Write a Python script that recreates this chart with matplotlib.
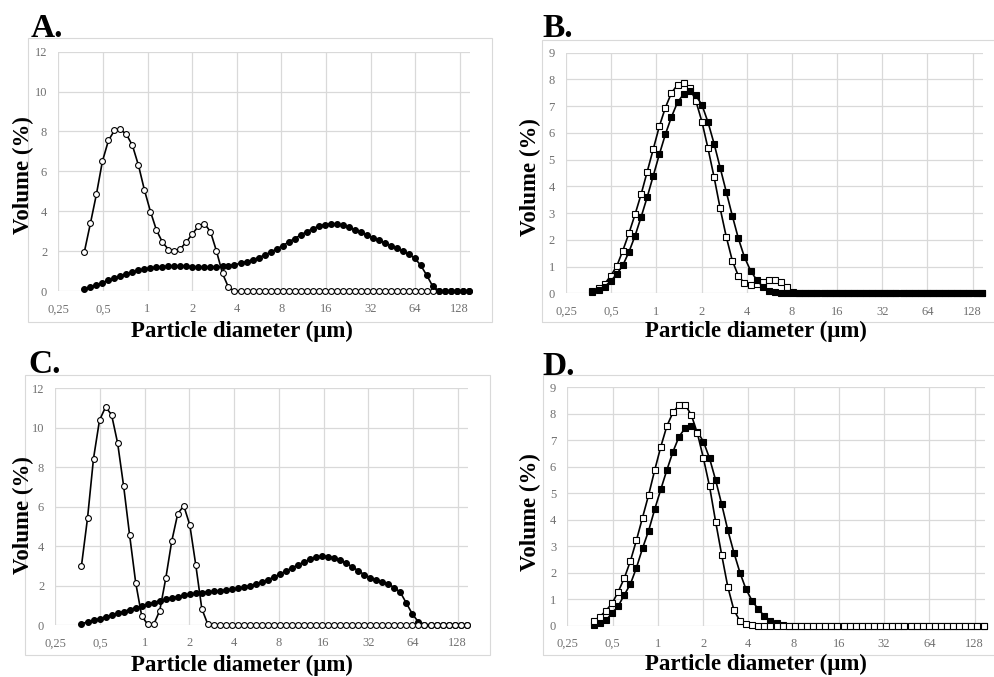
import matplotlib
matplotlib.use("Agg")
import matplotlib.pyplot as plt
from matplotlib.patches import Rectangle
from matplotlib.ticker import FixedLocator, FixedFormatter, NullLocator

# size channels (µm)
diam = [0.375, 0.412, 0.452, 0.496, 0.545, 0.598, 0.657, 0.721, 0.791, 0.869,
        0.954, 1.047, 1.149, 1.261, 1.385, 1.520, 1.669, 1.832, 2.011, 2.208,
        2.423, 2.660, 2.920, 3.206, 3.519, 3.863, 4.241, 4.656, 5.111, 5.611,
        6.159, 6.761, 7.422, 8.148, 8.944, 9.819, 10.78, 11.83, 12.99, 14.26,
        15.65, 17.18, 18.86, 20.71, 22.73, 24.95, 27.39, 30.07, 33.01, 36.24,
        39.78, 43.67, 47.94, 52.62, 57.77, 63.41, 69.61, 76.42, 83.89, 92.09,
        101.1, 111.0, 121.8, 133.7, 146.8]

x_ticks = [0.25, 0.5, 1, 2, 4, 8, 16, 32, 64, 128]
x_tick_labels = ["0,25", "0,5", "1", "2", "4", "8", "16", "32", "64", "128"]

a_open = [1.97, 3.4, 4.85, 6.5, 7.55, 8.05, 8.1, 7.85, 7.3, 6.3,
          5.05, 3.98, 3.05, 2.45, 2.08, 2.0, 2.12, 2.47, 2.87, 3.25,
          3.38, 2.97, 2.0, 0.88, 0.18, 0, 0, 0, 0, 0,
          0, 0, 0, 0, 0, 0, 0, 0, 0, 0,
          0, 0, 0, 0, 0, 0, 0, 0, 0, 0,
          0, 0, 0, 0, 0, 0, 0, 0, 0, 0,
          0, 0, 0, 0, 0]
a_closed = [0.1, 0.2, 0.3, 0.42, 0.54, 0.65, 0.76, 0.86, 0.95, 1.03,
            1.1, 1.15, 1.19, 1.22, 1.24, 1.25, 1.25, 1.24, 1.22, 1.21,
            1.2, 1.2, 1.21, 1.23, 1.27, 1.32, 1.39, 1.47, 1.56, 1.67,
            1.8, 1.95, 2.1, 2.27, 2.45, 2.63, 2.8, 2.97, 3.12, 3.25,
            3.33, 3.37, 3.35, 3.3, 3.2, 3.08, 2.95, 2.82, 2.68, 2.55,
            2.42, 2.28, 2.15, 2.0, 1.85, 1.65, 1.3, 0.8, 0.25, 0.02,
            0, 0, 0, 0, 0]

b_open = [0.08, 0.18, 0.35, 0.65, 1.02, 1.6, 2.25, 2.95, 3.7, 4.55,
          5.4, 6.25, 6.95, 7.5, 7.8, 7.88, 7.68, 7.2, 6.42, 5.42,
          4.35, 3.18, 2.12, 1.22, 0.65, 0.38, 0.32, 0.33, 0.42, 0.5,
          0.5, 0.42, 0.22, 0.03, 0, 0, 0, 0, 0, 0,
          0, 0, 0, 0, 0, 0, 0, 0, 0, 0,
          0, 0, 0, 0, 0, 0, 0, 0, 0, 0,
          0, 0, 0, 0, 0]
b_closed = [0.05, 0.12, 0.25, 0.45, 0.72, 1.05, 1.55, 2.15, 2.85, 3.6,
            4.4, 5.2, 5.95, 6.6, 7.15, 7.45, 7.55, 7.4, 7.05, 6.4,
            5.6, 4.7, 3.8, 2.9, 2.05, 1.35, 0.85, 0.5, 0.25, 0.1,
            0.03, 0, 0, 0, 0, 0, 0, 0, 0, 0,
            0, 0, 0, 0, 0, 0, 0, 0, 0, 0,
            0, 0, 0, 0, 0, 0, 0, 0, 0, 0,
            0, 0, 0, 0, 0]

c_open = [3.0, 5.42, 8.44, 10.38, 11.05, 10.66, 9.22, 7.04, 4.56, 2.15,
          0.46, 0.03, 0.03, 0.72, 2.36, 4.25, 5.65, 6.04, 5.07, 3.02,
          0.82, 0.03, 0, 0, 0, 0, 0, 0, 0, 0,
          0, 0, 0, 0, 0, 0, 0, 0, 0, 0,
          0, 0, 0, 0, 0, 0, 0, 0, 0, 0,
          0, 0, 0, 0, 0, 0, 0, 0, 0, 0,
          0, 0, 0, 0, 0]
c_closed = [0.07, 0.15, 0.24, 0.32, 0.41, 0.5, 0.59, 0.68, 0.78, 0.88,
            0.97, 1.06, 1.14, 1.22, 1.3, 1.37, 1.44, 1.5, 1.56, 1.6,
            1.64, 1.67, 1.7, 1.73, 1.77, 1.81, 1.86, 1.92, 1.99, 2.08,
            2.18, 2.3, 2.43, 2.58, 2.74, 2.9, 3.05, 3.2, 3.33, 3.43,
            3.48, 3.47, 3.4, 3.28, 3.13, 2.95, 2.75, 2.55, 2.4, 2.28,
            2.17, 2.06, 1.9, 1.65, 1.1, 0.55, 0.15, 0.02, 0, 0,
            0, 0, 0, 0, 0]

d_open = [0.18, 0.34, 0.57, 0.84, 1.28, 1.79, 2.44, 3.23, 4.08, 4.94,
          5.88, 6.76, 7.54, 8.05, 8.34, 8.34, 7.96, 7.27, 6.32, 5.26,
          3.93, 2.67, 1.47, 0.59, 0.18, 0.05, 0.02, 0, 0, 0,
          0, 0, 0, 0, 0, 0, 0, 0, 0, 0,
          0, 0, 0, 0, 0, 0, 0, 0, 0, 0,
          0, 0, 0, 0, 0, 0, 0, 0, 0, 0,
          0, 0, 0, 0, 0]
d_closed = [0.03, 0.09, 0.21, 0.47, 0.74, 1.16, 1.57, 2.19, 2.92, 3.59,
            4.4, 5.15, 5.88, 6.57, 7.14, 7.46, 7.54, 7.33, 6.95, 6.32,
            5.5, 4.58, 3.61, 2.76, 2.0, 1.37, 0.94, 0.62, 0.37, 0.19,
            0.11, 0.03, 0, 0, 0, 0, 0, 0, 0, 0,
            0, 0, 0, 0, 0, 0, 0, 0, 0, 0,
            0, 0, 0, 0, 0, 0, 0, 0, 0, 0,
            0, 0, 0, 0, 0]

W, H = 995, 677
SERIF = ["Liberation Serif", "DejaVu Serif"]
GRID = "#d9d9d9"
TICK = "#707070"

fig = plt.figure(figsize=(W / 100, H / 100), dpi=100)


def fx(px):
    return px / W


def fy(py):
    return 1 - py / H


def draw_panel(box, frame, letter, letter_xy, xlab_xy, ylab_xy,
               y_open, y_closed, marker, ymax, open_on_top):
    left, top, right, bottom = box
    ax = fig.add_axes([fx(left), fy(bottom), (right - left) / W, (bottom - top) / H])
    ax.set_xscale("log", base=2)
    ax.set_xlim(0.25, 150)
    ax.set_ylim(0, ymax)
    ax.xaxis.set_major_locator(FixedLocator(x_ticks))
    ax.xaxis.set_major_formatter(FixedFormatter(x_tick_labels))
    ax.xaxis.set_minor_locator(NullLocator())
    ystep = 2 if ymax == 12 else 1
    ax.set_yticks(range(0, ymax + 1, ystep))
    ax.grid(True, color=GRID, lw=0.9)
    ax.set_axisbelow(True)
    for s in ax.spines.values():
        s.set_visible(False)
    ax.tick_params(axis="both", length=0, labelsize=9, labelcolor=TICK)
    ax.tick_params(axis="x", pad=9)
    ax.tick_params(axis="y", pad=8)
    for lab in ax.get_xticklabels() + ax.get_yticklabels():
        lab.set_family(SERIF)

    z_open, z_closed = (4, 3) if open_on_top else (3, 4)
    ax.plot(diam, y_open, color="black", lw=1.2, marker=marker, ms=4.2,
            mfc="white", mec="black", mew=0.8, zorder=z_open, clip_on=False)
    ax.plot(diam, y_closed, color="black", lw=1.2, marker=marker, ms=4.2,
            mfc="black", mec="black", mew=0.8, zorder=z_closed, clip_on=False)

    fl, ft, fr, fb = frame
    fig.patches.append(Rectangle((fx(fl), fy(fb)), (fr - fl) / W, (fb - ft) / H,
                                 transform=fig.transFigure, fill=False,
                                 ec=GRID, lw=0.8))
    fig.text(fx(letter_xy[0]), fy(letter_xy[1]), letter, family=SERIF,
             fontsize=24, fontweight="bold", ha="left", va="baseline")
    fig.text(fx(xlab_xy[0]), fy(xlab_xy[1]), "Particle diameter (μm)", family=SERIF,
             fontsize=16.5, fontweight="bold", ha="center", va="center")
    fig.text(fx(ylab_xy[0]), fy(ylab_xy[1]), "Volume (%)", family=SERIF,
             fontsize=16.5, fontweight="bold", ha="center", va="center", rotation=90)
    return ax


draw_panel((58.3, 51.7, 470, 291), (28, 38, 492, 322), "A.", (31, 37),
           (242, 331), (23, 175), a_open, a_closed, "o", 12, False)
draw_panel((566, 52.7, 983, 293.3), (542, 40, 1000, 322), "B.", (542, 37),
           (756, 331), (530, 177), b_open, b_closed, "s", 9, False)
draw_panel((55.3, 388.3, 468, 625), (25, 375, 490, 655), "C.", (28, 373),
           (242, 665), (23, 515), c_open, c_closed, "o", 12, True)
draw_panel((567.3, 387.3, 985, 625.7), (543, 375, 1000, 655), "D.", (542, 375),
           (756, 664), (530, 512), d_open, d_closed, "s", 9, True)

fig.savefig("out.png", dpi=100)
